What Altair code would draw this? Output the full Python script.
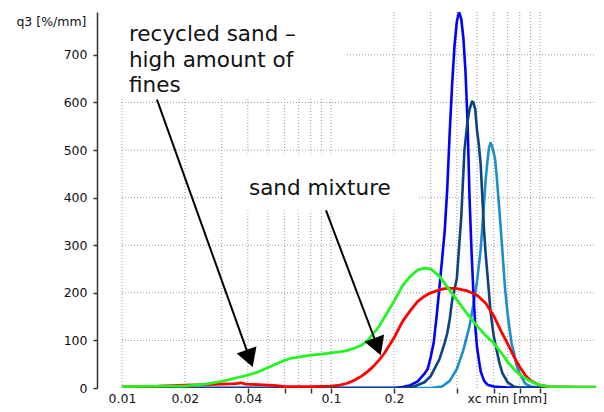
import altair as alt
import pandas as pd

# ---------------- data ----------------
green_x = [0.01, 0.015, 0.02, 0.025, 0.03, 0.035, 0.04, 0.045, 0.05, 0.055, 0.06, 0.065, 0.07, 0.08, 0.09,
           0.1, 0.11, 0.12, 0.13, 0.14, 0.15, 0.16, 0.17, 0.18, 0.2, 0.22, 0.24, 0.26, 0.28, 0.3, 0.33,
           0.37, 0.4, 0.45, 0.5, 0.55, 0.6, 0.65, 0.7, 0.75, 0.8, 0.9, 1.0, 1.1, 1.5, 2.0]
green_y = [3, 4, 4, 8, 14, 21, 27, 34, 43, 51, 58, 63, 65, 69, 71,
           74, 76, 79, 84, 90, 100, 115, 130, 148, 182, 215, 235, 248, 252, 250, 235,
           205, 185, 155, 130, 110, 95, 75, 55, 40, 28, 14, 6, 3, 2, 2]

red_x = [0.01, 0.015, 0.02, 0.025, 0.03, 0.035, 0.037, 0.039, 0.045, 0.05, 0.055, 0.06, 0.08, 0.1, 0.11,
         0.12, 0.13, 0.14, 0.15, 0.16, 0.17, 0.18, 0.2, 0.22, 0.24, 0.26, 0.28, 0.3, 0.33, 0.36, 0.4,
         0.45, 0.5, 0.55, 0.6, 0.65, 0.7, 0.75, 0.8, 0.85, 0.9, 1.0, 1.1, 1.5, 2.0]
red_y = [3, 4, 6, 7, 8, 9, 11, 8, 7, 6, 5, 3, 3, 4, 6,
         10, 17, 25, 35, 46, 59, 73, 105, 140, 163, 182, 193, 200, 206, 210, 209,
         204, 195, 178, 152, 120, 93, 66, 44, 27, 16, 6, 3, 2, 2]

blue_x = [0.01, 0.2, 0.22, 0.24, 0.26, 0.28, 0.29, 0.3, 0.31, 0.32, 0.33, 0.34, 0.35, 0.36, 0.37, 0.38,
          0.39, 0.4, 0.41, 0.42, 0.43, 0.44, 0.45, 0.46, 0.47, 0.48, 0.49, 0.5, 0.52, 0.54, 0.56, 0.6,
          0.7, 2.0]
blue_y = [0, 0, 2, 6, 14, 30, 40, 65, 95, 150, 210, 270, 330, 420, 540, 640,
          720, 770, 790, 775, 735, 665, 560, 400, 290, 200, 130, 84, 35, 15, 7, 3,
          1, 0]

navy_x = [0.01, 0.22, 0.25, 0.28, 0.3, 0.33, 0.35, 0.36, 0.37, 0.38, 0.4, 0.42, 0.435, 0.45, 0.46,
          0.473, 0.48, 0.49, 0.5, 0.51, 0.52, 0.53, 0.54, 0.55, 0.56, 0.58, 0.6, 0.62, 0.64, 0.66,
          0.7, 0.75, 0.8, 2.0]
navy_y = [0, 0, 3, 12, 25, 60, 95, 115, 145, 185, 230, 360, 500, 560, 585,
          602, 600, 585, 540, 510, 470, 400, 330, 280, 240, 160, 110, 80, 52, 32,
          12, 3, 1, 0]

light_x = [0.01, 0.3, 0.34, 0.37, 0.4, 0.43, 0.46, 0.48, 0.5, 0.52, 0.54, 0.55, 0.56, 0.57, 0.58,
           0.59, 0.6, 0.61, 0.62, 0.64, 0.66, 0.68, 0.7, 0.73, 0.75, 0.77, 0.8, 0.85, 0.9, 1.0, 2.0]
light_y = [0, 0, 3, 15, 40, 80, 130, 175, 225, 290, 390, 440, 475, 505, 515,
           508, 495, 480, 447, 370, 290, 210, 155, 95, 75, 50, 30, 9, 3, 1, 0]

# gridline positions and ticks
vgrid_x = [0.01, 0.02, 0.03, 0.04, 0.05, 0.06, 0.07, 0.08, 0.09,
           0.1, 0.2, 0.3, 0.4, 0.5, 0.6, 0.7, 0.8, 0.9, 1.0]
hgrid_y = [100, 200, 300, 400, 500, 600, 700]
x_ticks = [0.01, 0.02, 0.04, 0.06, 0.08, 0.1, 0.2, 0.4, 0.6, 0.8, 1.0]
x_labelled = [0.01, 0.02, 0.04, 0.1, 0.2]
y_ticks = [0, 100, 200, 300, 400, 500, 600, 700]

# annotations
box_x = [0.0098, 0.0305]
box_x2 = [0.1195, 0.261]
box_y = [608, 373]
box_y2 = [790, 492]
note_x = [0.0108, 0.0405]
note_y = [729, 405]
note_text = ["recycled sand –\nhigh amount of\nfines", "sand mixture"]
arrow_x = [0.0147, 0.0946]
arrow_y = [606, 373]
arrow_x2 = [0.0419, 0.1716]
arrow_y2 = [48, 73]

# ---------------- chart ----------------
W, H = 474, 376
XDOM, YDOM = [0.01, 1.853], [0, 790]
FONT = "DejaVu Sans"
TXT = "#111111"
AX = "#333333"

xs = alt.Scale(type="log", domain=XDOM, nice=False)
ys = alt.Scale(domain=YDOM, nice=False, zero=False)

x_axis = alt.Axis(
    values=x_ticks, grid=False, domain=False,
    tickColor=AX, tickSize=5, tickWidth=1.5,
    tickOpacity={"condition": {"test": "datum.value < 0.03", "value": 0}, "value": 1},
    labelExpr="indexof(" + str(x_labelled) + ", datum.value) >= 0 ? '' + datum.value : ''",
    labelFont=FONT, labelFontSize=12.5, labelColor=TXT, labelPadding=9,
    labelBaseline="alphabetic",
    labelOverlap=False, labelFlush=False, labelBound=False,
    title="xc  min [mm]", titleFont=FONT, titleFontSize=12.5, titleFontWeight="normal",
    titleColor=TXT, titleAlign="left", titleBaseline="alphabetic", titleAnchor="start",
    titleX=345, titleY=14,
)
y_axis = alt.Axis(
    values=y_ticks, grid=False, offset=25,
    domainColor=AX, domainWidth=1.5, tickColor=AX, tickSize=4, tickWidth=1.5,
    labelFont=FONT, labelFontSize=12.5, labelColor=TXT, labelPadding=6,
    title="q3 [%/mm]", titleFont=FONT, titleFontSize=12.5, titleFontWeight="normal",
    titleColor=TXT, titleAngle=0, titleAlign="right", titleBaseline="alphabetic",
    titleX=-11, titleY=13,
)


def X(field="x"):
    return alt.X(field + ":Q", scale=xs, axis=x_axis)


def Y(field="y"):
    return alt.Y(field + ":Q", scale=ys, axis=y_axis)


grid_v = alt.Chart(pd.DataFrame({"x": vgrid_x, "y": [YDOM[0]] * len(vgrid_x),
                                 "y2": [YDOM[1]] * len(vgrid_x)})).mark_rule(
    color="#9a9a9a", strokeWidth=1, strokeDash=[1, 2]).encode(x=X(), y=Y(), y2="y2:Q")
grid_h = alt.Chart(pd.DataFrame({"y": hgrid_y, "x": [XDOM[0]] * len(hgrid_y),
                                 "x2": [XDOM[1]] * len(hgrid_y)})).mark_rule(
    color="#9a9a9a", strokeWidth=1, strokeDash=[1, 2]).encode(x=X(), x2="x2:Q", y=Y())

boxes = alt.Chart(pd.DataFrame({"x": box_x, "x2": box_x2, "y": box_y, "y2": box_y2})).mark_rect(
    color="white").encode(x=X(), x2="x2:Q", y=Y(), y2="y2:Q")


def curve(xv, yv, color, width=2.6):
    df = pd.DataFrame({"x": xv, "y": yv})
    return alt.Chart(df).mark_line(color=color, strokeWidth=width, clip=True,
                                   strokeJoin="round").encode(x=X(), y=Y())


c_light = curve(light_x, light_y, "#1a8fcb")
c_blue = curve(blue_x, blue_y, "#0000ff")
c_navy = curve(navy_x, navy_y, "#0d4280")
c_red = curve(red_x, red_y, "#ff0000", 2.8)
c_green = curve(green_x, green_y, "#22f522", 2.8)

notes = alt.Chart(pd.DataFrame({"x": note_x, "y": note_y, "t": note_text})).mark_text(
    align="left", baseline="alphabetic", font=FONT, fontSize=21.5, lineBreak="\n",
    lineHeight=25.5, color=TXT).encode(x=X(), y=Y(), text="t:N")

adf = pd.DataFrame({"x": arrow_x, "y": arrow_y, "x2": arrow_x2, "y2": arrow_y2})
shafts = alt.Chart(adf).mark_rule(color="black", strokeWidth=2).encode(
    x=X(), y=Y(), x2="x2:Q", y2="y2:Q")

heads = []
for i, (ang, dx, dy) in enumerate([(340.2, -2.4, -6.7), (339.3, -2.5, -6.6)]):
    hdf = pd.DataFrame({"x": [arrow_x2[i]], "y": [arrow_y2[i]]})
    heads.append(alt.Chart(hdf).mark_point(
        shape="triangle-down", filled=True, color="black", opacity=1, size=440,
        angle=ang, xOffset=dx, yOffset=dy, strokeWidth=0).encode(x=X(), y=Y()))

chart = alt.layer(
    grid_v, grid_h, boxes, c_light, c_blue, c_navy, c_red, c_green,
    shafts, *heads, notes,
).properties(
    width=W, height=H,
    autosize=alt.AutoSizeParams(type="none"),
    padding={"left": 114, "top": 4, "right": 0, "bottom": 16},
    background="white",
).configure_view(stroke=None)

chart.save("out.html", embed_options={"renderer": "svg", "actions": False})
